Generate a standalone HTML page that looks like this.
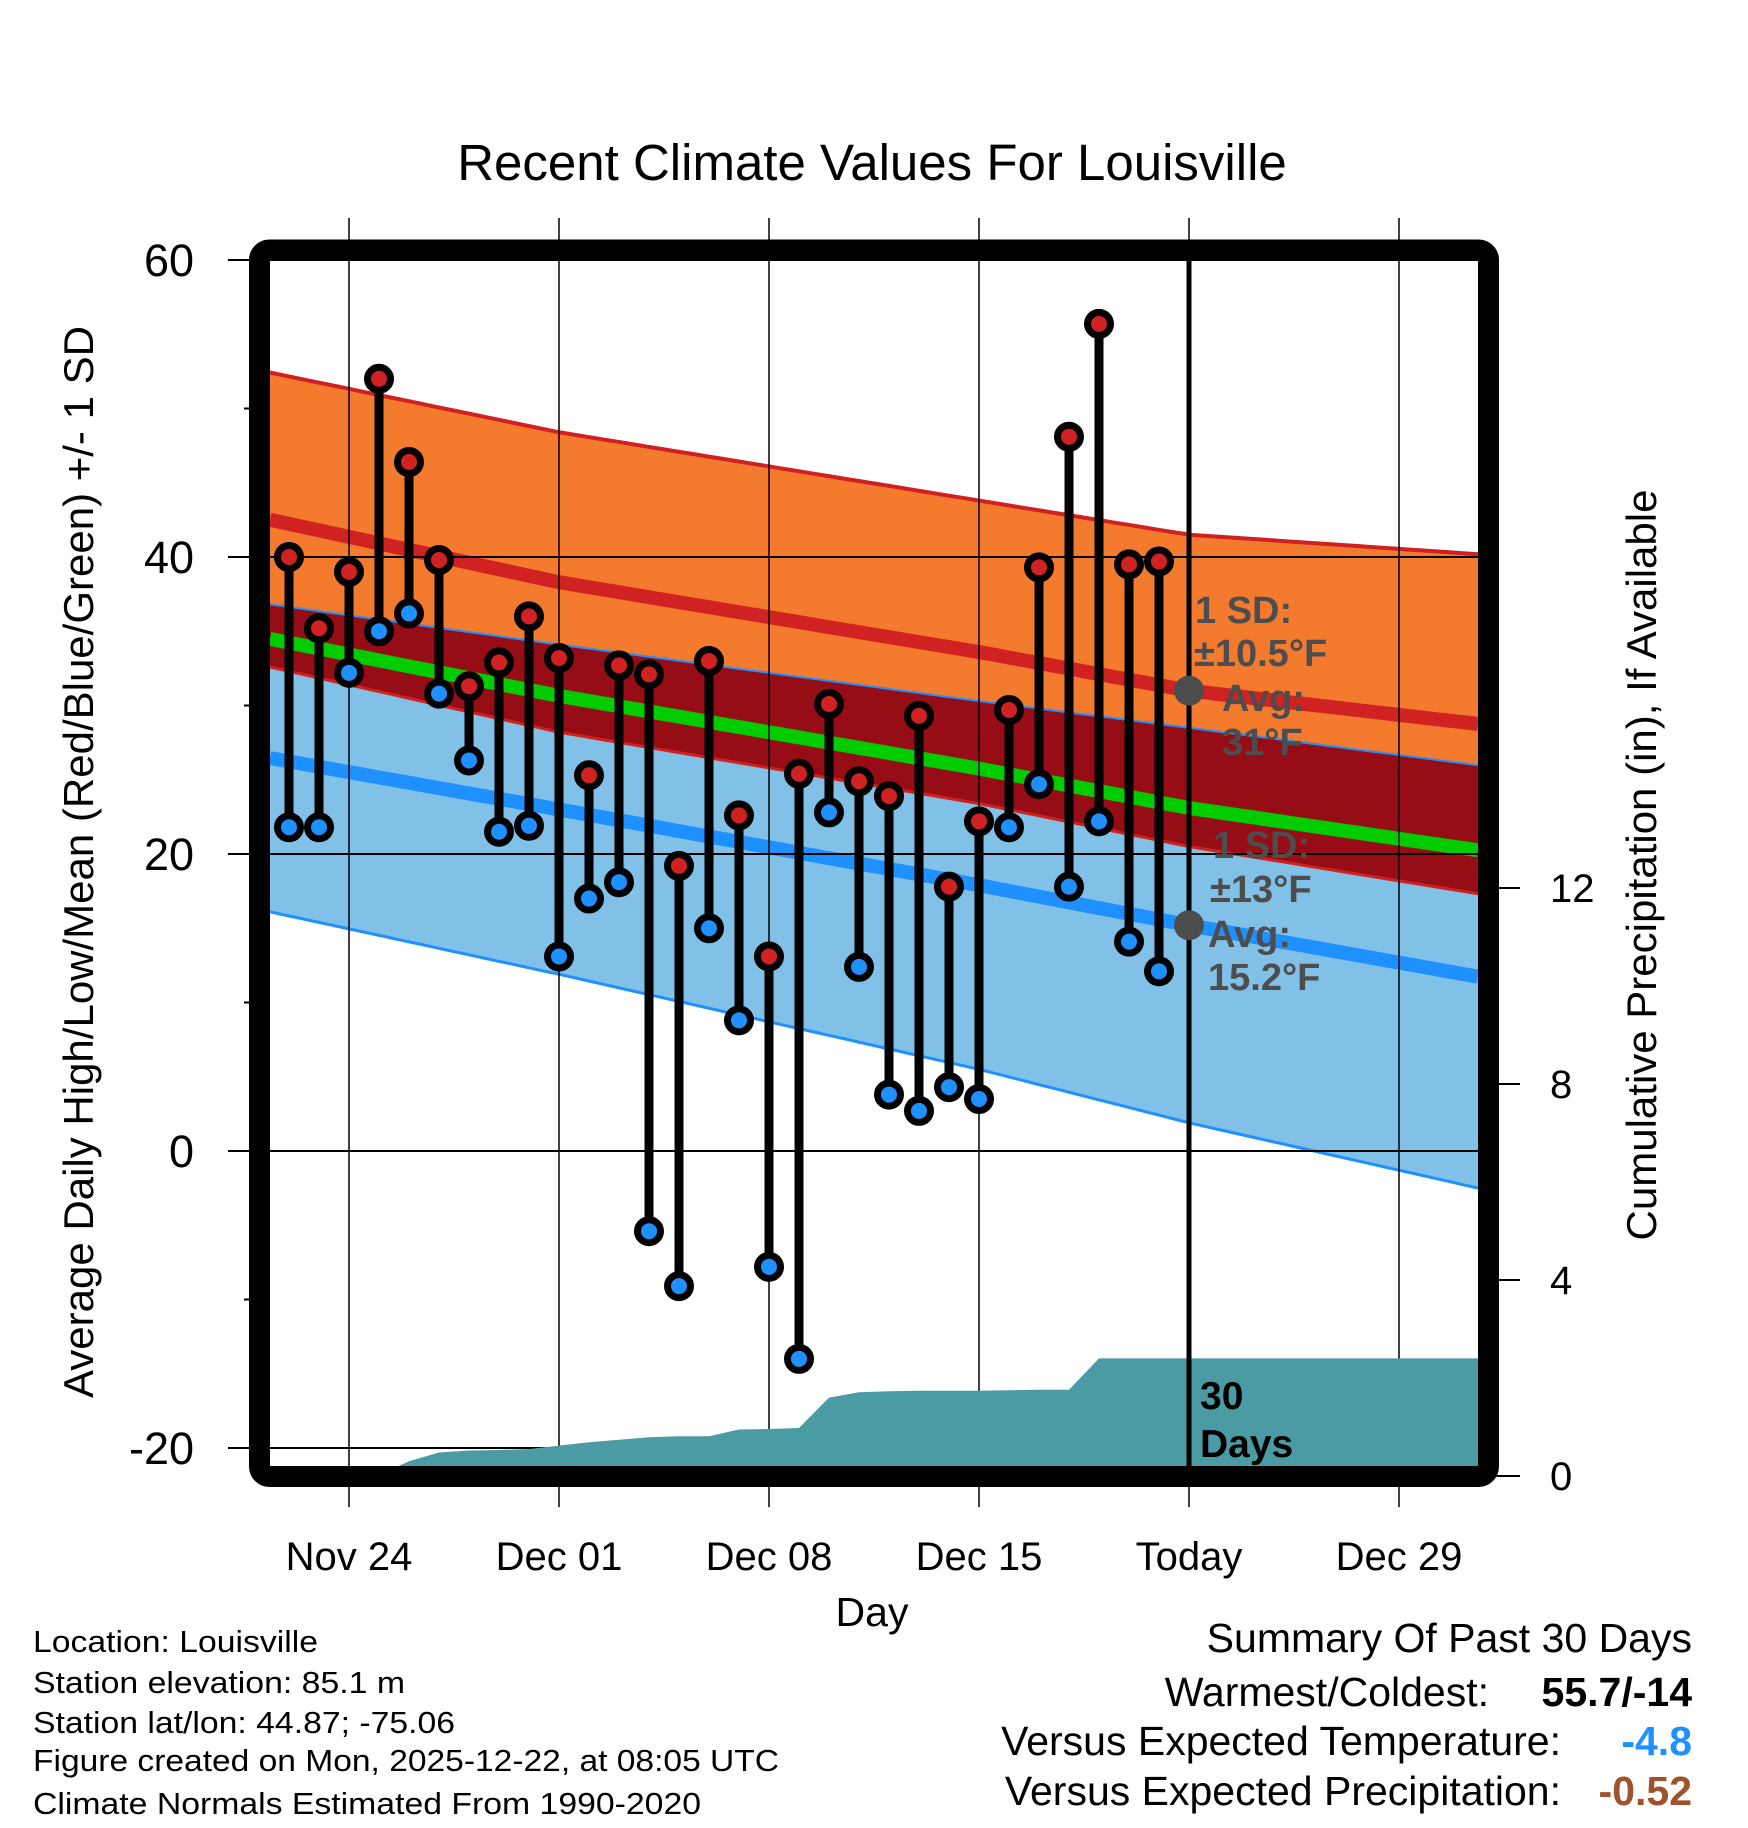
<!DOCTYPE html>
<html><head><meta charset="utf-8"><style>
html,body{margin:0;padding:0;background:#fff;}
svg{display:block;font-family:"Liberation Sans",sans-serif;}
</style></head><body>
<svg id="chart" width="1748" height="1828" viewBox="0 0 1748 1828">
<text x="872" y="180" font-size="51" text-anchor="middle">Recent Climate Values For Louisville</text>
<g id="plot"></g>
<text transform="translate(93,862) rotate(-90)" font-size="42" text-anchor="middle">Average Daily High/Low/Mean (Red/Blue/Green) +/- 1 SD</text>
<text transform="translate(1656,865) rotate(-90)" font-size="42" text-anchor="middle">Cumulative Precipitation (in), If Available</text>
<text x="872" y="1626" font-size="41" text-anchor="middle">Day</text>
<g font-size="31">
<text x="33" y="1652" textLength="285" lengthAdjust="spacingAndGlyphs">Location: Louisville</text>
<text x="33" y="1693" textLength="372" lengthAdjust="spacingAndGlyphs">Station elevation: 85.1 m</text>
<text x="33" y="1733" textLength="422" lengthAdjust="spacingAndGlyphs">Station lat/lon: 44.87; -75.06</text>
<text x="33" y="1771" textLength="746" lengthAdjust="spacingAndGlyphs">Figure created on Mon, 2025-12-22, at 08:05 UTC</text>
<text x="33" y="1814" textLength="668" lengthAdjust="spacingAndGlyphs">Climate Normals Estimated From 1990-2020</text>
</g>
<g font-size="41">
<text x="1692" y="1652" text-anchor="end">Summary Of Past 30 Days</text>
<text x="1489" y="1706" text-anchor="end">Warmest/Coldest:</text>
<text x="1692" y="1706" text-anchor="end" font-weight="bold">55.7/-14</text>
<text x="1561" y="1755" text-anchor="end">Versus Expected Temperature:</text>
<text x="1692" y="1755" text-anchor="end" font-weight="bold" fill="#1E90FF">-4.8</text>
<text x="1561" y="1805" text-anchor="end">Versus Expected Precipitation:</text>
<text x="1692" y="1805" text-anchor="end" font-weight="bold" fill="#A0522D">-0.52</text>
</g>
</svg>
<script>
// Observed data, day index 0 = Nov 22
const highs = [40,35.2,39,52,46.4,39.8,31.3,32.9,36,33.2,25.3,32.7,32.1,19.2,33,22.6,13.1,25.4,30.1,24.9,23.9,29.3,17.8,22.2,29.7,39.3,48.1,55.7,39.5,39.7];
const lows = [21.8,21.8,32.2,35,36.2,30.8,26.3,21.5,21.9,13.1,17,18.1,-5.4,-9.1,15,8.8,-7.8,-14,22.8,12.4,3.8,2.7,4.3,3.5,21.8,24.7,17.8,22.2,14.1,12.1];
const precip = [0,0,0,0.02,0.3,0.48,0.52,0.53,0.55,0.62,0.69,0.74,0.79,0.81,0.81,0.95,0.96,0.98,1.6,1.71,1.73,1.74,1.74,1.74,1.75,1.76,1.76,2.4,2.4,2.4];
// Normals at sample days
const normDays = [-1.3,9,23,30,40.3];
const avgHigh = [42.8,38.3,33.6,31.0,28.6];
const sdHigh = [9.9,10.1,10.2,10.5,11.5];
const avgLow = [26.7,23.0,17.9,15.2,11.5];
const sdLow = [10.3,11.1,12.4,13.3,14.3];
const yTicks = [60,40,20,0,-20];
const yMinor = [50,30,10,-10];
const pTicks = [0,4,8,12];
const xTickDays = [2,9,16,23,30,37];
const xTickLabels = ["Nov 24","Dec 01","Dec 08","Dec 15","Today","Dec 29"];
const todayDay = 30;

const NS="http://www.w3.org/2000/svg";
const X0=270,X1=1478,Y0=261,Y1=1466;
const xS=d=>289+d*30;
const yS=t=>1151-t*14.85;
const pS=p=>1476-p*49;
const dStart=(X0-289)/30, dEnd=(X1-289)/30;
const g=document.getElementById('plot');
function el(tag,attrs,parent){const e=document.createElementNS(NS,tag);for(const k in attrs)e.setAttribute(k,attrs[k]);(parent||g).appendChild(e);return e;}
function interp(arr,d){
  if(d<=normDays[0])return arr[0]+(arr[1]-arr[0])*(d-normDays[0])/(normDays[1]-normDays[0]);
  for(let i=0;i<normDays.length-1;i++){if(d<=normDays[i+1]){const f=(d-normDays[i])/(normDays[i+1]-normDays[i]);return arr[i]+(arr[i+1]-arr[i])*f;}}
  const n=normDays.length;return arr[n-1]+(arr[n-1]-arr[n-2])*(d-normDays[n-1])/(normDays[n-1]-normDays[n-2]);
}
const samples=[];for(let i=0;i<=80;i++)samples.push(dStart+(dEnd-dStart)*i/80);
const f={
  hTop:d=>interp(avgHigh,d)+interp(sdHigh,d),
  hBot:d=>interp(avgHigh,d)-interp(sdHigh,d),
  lTop:d=>interp(avgLow,d)+interp(sdLow,d),
  lBot:d=>interp(avgLow,d)-interp(sdLow,d),
  hAvg:d=>interp(avgHigh,d),
  lAvg:d=>interp(avgLow,d),
  mean:d=>(interp(avgHigh,d)+interp(avgLow,d))/2
};
function linePts(fn){return samples.map(d=>xS(d).toFixed(1)+','+yS(fn(d)).toFixed(1));}
function band(top,bot){return linePts(top).concat(linePts(bot).reverse()).join(' ');}

let e;
e=el('polygon',{points:band(f.hTop,f.hBot),fill:'#F47A2E'});


e=el('polygon',{points:band(f.lTop,f.lBot),fill:'#82C1E7'});


e=el('polygon',{points:band(f.lTop,f.hBot),fill:'#960D15'});


const lines=[['hTop','#D02020',4,'high-plus-sd-line'],['hBot','#D02020',3,'high-minus-sd-line'],['lTop','#1E90FF',2,'low-plus-sd-line'],['lBot','#1E90FF',3,'low-minus-sd-line'],['hAvg','#D02222',14,'avg-high-line'],['lAvg','#1E90FF',14,'avg-low-line'],['mean','#00CC00',14,'mean-line']];
for(const [k,c,w,n] of lines){
  e=el('polyline',{points:linePts(f[k]).join(' '),fill:'none',stroke:c,'stroke-width':w});
  
  
}
// gridlines
yTicks.forEach(t=>{
  e=el('line',{x1:228,x2:X1,y1:yS(t),y2:yS(t),stroke:'#000','stroke-width':2});
  
  
  e=el('text',{x:194,y:yS(t)+16,'font-size':45,'text-anchor':'end'});
  e.textContent=t;
  
  
});
yMinor.forEach(t=>{
  e=el('line',{x1:244,x2:252,y1:yS(t),y2:yS(t),stroke:'#000','stroke-width':2});
  
  
});
xTickDays.forEach((d,i)=>{
  e=el('line',{x1:xS(d),x2:xS(d),y1:218,y2:1507,stroke:'#000','stroke-width':1.5});
  
  
  e=el('text',{x:xS(d),y:1570,'font-size':40,'text-anchor':'middle'});
  e.textContent=xTickLabels[i];
  
  
});
// precipitation area (drawn over gridlines)
let pp=[xS(dStart)+','+pS(0)];
precip.forEach((p,i)=>pp.push(xS(i)+','+pS(p).toFixed(1)));
pp.push(X1+','+pS(precip[precip.length-1]).toFixed(1));
pp.push(X1+','+pS(0));
e=el('polygon',{points:pp.join(' '),fill:'#4A9BA4'});


pTicks.forEach(p=>{
  e=el('line',{x1:1490,x2:1520,y1:pS(p),y2:pS(p),stroke:'#000','stroke-width':2});
  
  
  e=el('text',{x:1550,y:pS(p)+14,'font-size':40});
  e.textContent=p;
  
  
});
// today line
e=el('line',{x1:xS(todayDay),x2:xS(todayDay),y1:Y0,y2:Y1,stroke:'#000','stroke-width':5});


// stems and points
highs.forEach((h,i)=>{
  const x=xS(i);
  e=el('line',{x1:x,x2:x,y1:yS(h),y2:yS(lows[i]),stroke:'#000','stroke-width':9});
  
  
});
highs.forEach((h,i)=>{
  const x=xS(i);
  e=el('circle',{cx:x,cy:yS(h),r:11.5,fill:'#D02222',stroke:'#000','stroke-width':7});
  
  
  e=el('circle',{cx:x,cy:yS(lows[i]),r:11.5,fill:'#1E90FF',stroke:'#000','stroke-width':7});
  
  
});
// annotations
const today=xS(todayDay);
e=el('circle',{cx:today,cy:yS(f.hAvg(todayDay)),r:15,fill:'#4D4D4D'});


e=el('circle',{cx:today,cy:yS(f.lAvg(todayDay)),r:15,fill:'#4D4D4D'});


const ann=[[1195,623,'1 SD:'],[1194,666,'±10.5°F'],[1222,711,'Avg:'],[1222,755,'31°F'],[1213,858,'1 SD:'],[1210,902,'±13°F'],[1208,947,'Avg:'],[1208,990,'15.2°F']];
ann.forEach(a=>{
  e=el('text',{x:a[0],y:a[1],'font-size':38,'font-weight':'bold',fill:'#4D4D4D'});
  e.textContent=a[2];
  
  
});
e=el('text',{x:1200,y:1409,'font-size':39,'font-weight':'bold'});
e.textContent='30';


e=el('text',{x:1200,y:1457,'font-size':39,'font-weight':'bold'});
e.textContent='Days';


// frame
e=el('rect',{x:259.5,y:250,width:1229,height:1226.5,rx:10,fill:'none',stroke:'#000','stroke-width':21});


</script>
</body></html>
